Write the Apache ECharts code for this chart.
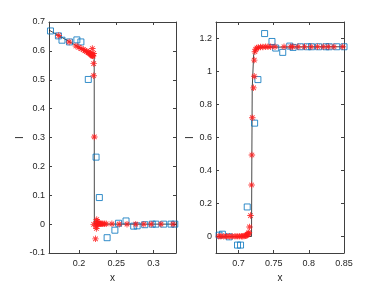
<!DOCTYPE html>
<html><head><meta charset="utf-8">
<script src="https://cdn.jsdelivr.net/npm/echarts@6/dist/echarts.min.js"></script>
<style>html,body{margin:0;padding:0;background:#fff}#c{width:380px;height:285px}</style>
</head><body><div id="c"></div>
<script>
// Left panel data
const leftSquareX = [0.162,0.1726,0.1774,0.1874,0.1973,0.2027,0.2126,0.223,0.2274,0.2378,0.2482,0.2531,0.2631,0.2734,0.278,0.2882,0.2982,0.3031,0.3135,0.3234,0.3284];
const leftSquareY = [0.669,0.652,0.637,0.631,0.638,0.631,0.501,0.232,0.092,-0.047,-0.021,0.003,0.011,-0.007,-0.006,-0.002,0,0,0,0,0];
const leftStarX = [0.173,0.187,0.196,0.2,0.203,0.206,0.208,0.21,0.212,0.213,0.214,0.215,0.216,0.217,0.2175,0.218,0.2185,0.219,0.218,0.2198,0.2198,0.2198,0.2207,0.2198,0.2239,0.224,0.2234,0.2234,0.2222,0.2245,0.225,0.226,0.227,0.228,0.229,0.2305,0.232,0.234,0.2365,0.2442,0.254,0.2644,0.2761,0.2869,0.2969,0.3099,0.3261];
const leftStarY = [0.653,0.631,0.617,0.612,0.608,0.604,0.601,0.598,0.596,0.594,0.592,0.59,0.588,0.586,0.585,0.584,0.583,0.582,0.608,0.591,0.556,0.514,0.302,-0.001,0.016,0.01,-0.007,-0.015,-0.051,0.003,0.002,0.002,0.002,0.001,0.001,0.001,0.001,0.001,0.001,0.001,0,0,0,0,0,0,0];
const leftLineX = [0.16,0.175,0.19,0.205,0.2175,0.2205,0.2207,0.33];
const leftLineY = [0.672,0.65,0.628,0.605,0.585,0.583,0,0];
const leftXTicks = [0.2,0.25,0.3];

// Right panel data
const rightSquareX = [0.6724,0.6771,0.6867,0.6986,0.7029,0.7124,0.7229,0.7276,0.7371,0.7476,0.7529,0.7629,0.7729,0.7776,0.7881,0.7981,0.8039,0.8139,0.8243,0.829,0.8396,0.85];
const rightSquareY = [0.008,0.014,-0.002,-0.052,-0.052,0.179,0.687,0.951,1.23,1.182,1.142,1.116,1.154,1.146,1.15,1.15,1.15,1.15,1.15,1.15,1.15,1.15];
const rightStarX = [0.672,0.675,0.679,0.683,0.687,0.691,0.695,0.698,0.701,0.704,0.706,0.708,0.71,0.711,0.712,0.713,0.714,0.7147,0.7157,0.7171,0.7186,0.719,0.7196,0.7214,0.7224,0.7224,0.7233,0.7245,0.726,0.7281,0.7314,0.7347,0.7386,0.7419,0.7457,0.7519,0.7647,0.7743,0.7771,0.7848,0.7938,0.8033,0.8124,0.8205,0.8276,0.8357,0.8481];
const rightStarY = [0.002,0.001,0.001,0.001,0.001,0.001,0.001,0.001,0.001,0.002,0.002,0.003,0.004,0.006,0.009,0.013,0.018,0.024,0.058,0.127,0.312,0.494,0.72,0.901,0.971,1.069,1.12,1.135,1.142,1.146,1.148,1.149,1.15,1.15,1.15,1.15,1.15,1.15,1.15,1.15,1.15,1.15,1.15,1.15,1.15,1.15,1.15];
const rightLineX = [0.668,0.7185,0.719,0.7195,0.7215,0.724,0.729,0.85];
const rightLineY = [0,0,0.5,0.9,1.1,1.13,1.147,1.15];
const rightXTicks = [0.7,0.75,0.8,0.85];
const rightYTicks = [0,0.2,0.4,0.6,0.8,1,1.2];

const zip = (xs, ys) => xs.map((x, i) => [x, ys[i]]);
const fmt = v => String(Math.round(v * 1000) / 1000);
const AX = '#404040', TXT = '#262626', FONT = 'Liberation Sans, Arial, sans-serif';
const STAR = 'path://M0 4.3H10V5.7H0Z M4.3 0H5.7V10H4.3Z M2 1L9 8L8 9L1 2Z M8 1L9 2L2 9L1 8Z';

function xAx(grid, min, max, ticks, pos, showLabel, name) {
  return {
    type: 'value', gridIndex: grid, position: pos, min: min, max: max,
    name: name, nameLocation: 'middle', nameGap: 20,
    nameTextStyle: {color: TXT, fontSize: 10, fontFamily: FONT},
    axisLine: {show: true, onZero: false, lineStyle: {color: AX, width: 1}},
    axisTick: {show: true, inside: true, length: 3, customValues: ticks, lineStyle: {color: AX}},
    axisLabel: {show: showLabel, customValues: ticks, formatter: fmt, color: TXT, fontSize: 9, fontFamily: FONT, margin: 6},
    splitLine: {show: false}
  };
}
function yAx(grid, min, max, interval, ticks, pos, showLabel, name, gap) {
  const o = {
    type: 'value', gridIndex: grid, position: pos, min: min, max: max,
    name: name, nameLocation: 'middle', nameGap: gap,
    nameTextStyle: {color: TXT, fontSize: 10, fontFamily: FONT},
    axisLine: {show: true, onZero: false, lineStyle: {color: AX, width: 1}},
    axisTick: {show: true, inside: true, length: 3, lineStyle: {color: AX}},
    axisLabel: {show: showLabel, formatter: fmt, color: TXT, fontSize: 9, fontFamily: FONT, margin: 4},
    splitLine: {show: false}
  };
  if (interval) o.interval = interval;
  if (ticks) { o.axisTick.customValues = ticks; o.axisLabel.customValues = ticks; }
  return o;
}

const chart = echarts.init(document.getElementById('c'), null, {renderer: 'canvas'});
const lineS = (xi, yi, data) => ({type: 'line', xAxisIndex: xi, yAxisIndex: yi, data: data, showSymbol: false, symbol: 'none', lineStyle: {color: '#1a1a1a', width: 0.8}, z: 2, animation: false});
const sqS = (xi, yi, data) => ({type: 'scatter', xAxisIndex: xi, yAxisIndex: yi, data: data, symbol: 'rect', symbolSize: 6, clip: false, itemStyle: {color: 'rgba(0,0,0,0)', borderColor: '#0072BD', borderWidth: 1}, z: 3, animation: false});
const stS = (xi, yi, data) => ({type: 'scatter', xAxisIndex: xi, yAxisIndex: yi, data: data, symbol: STAR, symbolSize: 6.5, clip: false, itemStyle: {color: '#ff1a1a', opacity: 0.85}, z: 4, animation: false});

chart.setOption({
  backgroundColor: '#fff',
  animation: false,
  grid: [
    {left: 49, right: 204, top: 22, bottom: 32, outerBoundsMode: 'none', containLabel: false},
    {left: 216, right: 36, top: 22, bottom: 32, outerBoundsMode: 'none', containLabel: false}
  ],
  xAxis: [
    xAx(0, 0.16, 0.33, leftXTicks, 'bottom', true, 'x'),
    xAx(0, 0.16, 0.33, leftXTicks, 'top', false, ''),
    xAx(1, 0.668, 0.85, rightXTicks, 'bottom', true, 'x'),
    xAx(1, 0.668, 0.85, rightXTicks, 'top', false, '')
  ],
  yAxis: [
    yAx(0, -0.1, 0.7, 0.1, null, 'left', true, 'I', 23),
    yAx(0, -0.1, 0.7, 0.1, null, 'right', false, '', 10),
    yAx(1, -0.1, 1.3, null, rightYTicks, 'left', true, 'I', 17),
    yAx(1, -0.1, 1.3, null, rightYTicks, 'right', false, '', 10)
  ],
  series: [
    lineS(0, 0, zip(leftLineX, leftLineY)),
    sqS(0, 0, zip(leftSquareX, leftSquareY)),
    stS(0, 0, zip(leftStarX, leftStarY)),
    lineS(2, 2, zip(rightLineX, rightLineY)),
    sqS(2, 2, zip(rightSquareX, rightSquareY)),
    stS(2, 2, zip(rightStarX, rightStarY))
  ]
});
</script></body></html>
